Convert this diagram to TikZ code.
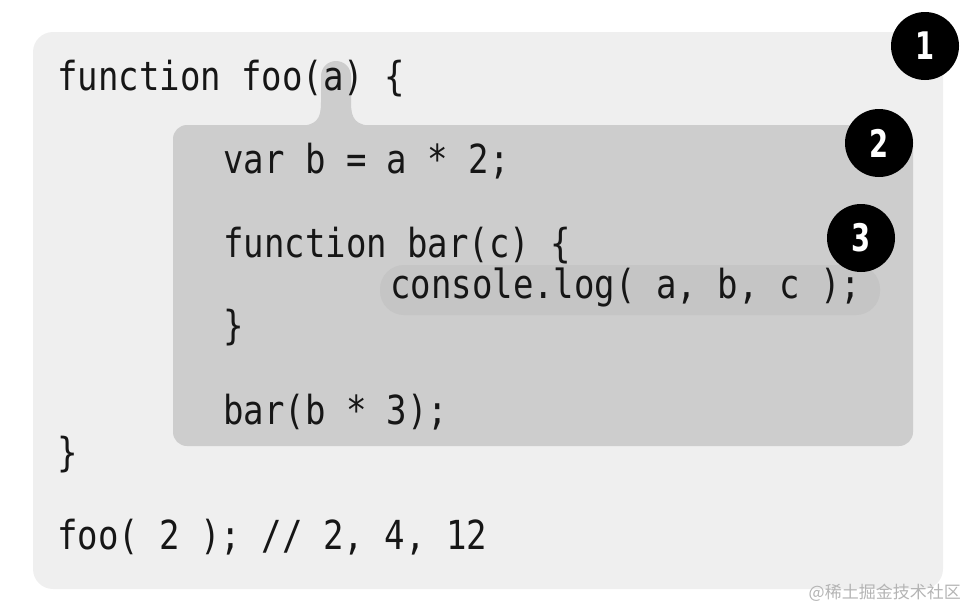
\documentclass[tikz,border=0pt]{standalone}
\usepackage{fontspec}
\setmonofont[FakeStretch=0.85]{DejaVu Sans Mono}
\newfontfamily\numfont[FakeStretch=0.72]{DejaVu Sans}
\newfontfamily\cjk{Noto Sans CJK SC}
\definecolor{outerbg}{HTML}{EFEFEF}
\definecolor{innerbg}{HTML}{CDCDCD}
\definecolor{hlbg}{HTML}{C5C5C5}
\definecolor{codeblack}{HTML}{161616}
\definecolor{wmgray}{HTML}{B4B4B4}
\tikzset{
  code/.style={anchor=base west, inner sep=0pt, text=codeblack,
    font=\ttfamily\fontsize{40}{48}\selectfont},
  badge/.style={circle, fill=black, minimum size=68pt, inner sep=0pt, text=white,
    font=\numfont\bfseries\fontsize{38}{38}\selectfont},
}
\begin{document}
\begin{tikzpicture}[x=1pt,y=-1pt]
\useasboundingbox (0,0) rectangle (968,608);
% outer scope box
\fill[outerbg, rounded corners=20pt] (33,32) rectangle (943,589);
% inner scope box with bump around parameter a
\fill[innerbg, rounded corners=14pt] (173,125) rectangle (913,446);
\fill[innerbg] (296,126) .. controls (317,126) and (321,119) .. (321,102)
  -- (321,76) arc[start angle=180, end angle=360, radius=15]
  -- (351,102) .. controls (351,119) and (355,126) .. (376,126) -- cycle;
% innermost scope highlight
\fill[hlbg, rounded corners=24pt] (380,265) rectangle (880,315);
% code lines
\node[code] (l1) at (57,90) {function foo(a) \{};
\node[code] (l2) at (223,173) {var b = a * 2;};
\node[code] (l3) at (223,257) {function bar(c) \{};
\node[code] (l4) at (390,298) {console.log( a, b, c );};
\node[code] (l5) at (223,339) {\}};
\node[code] (l6) at (223,424) {bar(b * 3);};
\node[code] (l7) at (57,466) {\}};
\node[code] (l8) at (57,549) {foo( 2 ); // 2, 4, 12};
% badges
\node[badge] (b1) at (925,46) {1};
\node[badge] (b2) at (879,143) {2};
\node[badge] (b3) at (861,238) {3};
% watermark
\node[anchor=east, inner sep=0pt, text=wmgray, font=\cjk\fontsize{17}{17}\selectfont] (wm) at (961,593) {@稀土掘金技术社区};
\end{tikzpicture}
\end{document}
